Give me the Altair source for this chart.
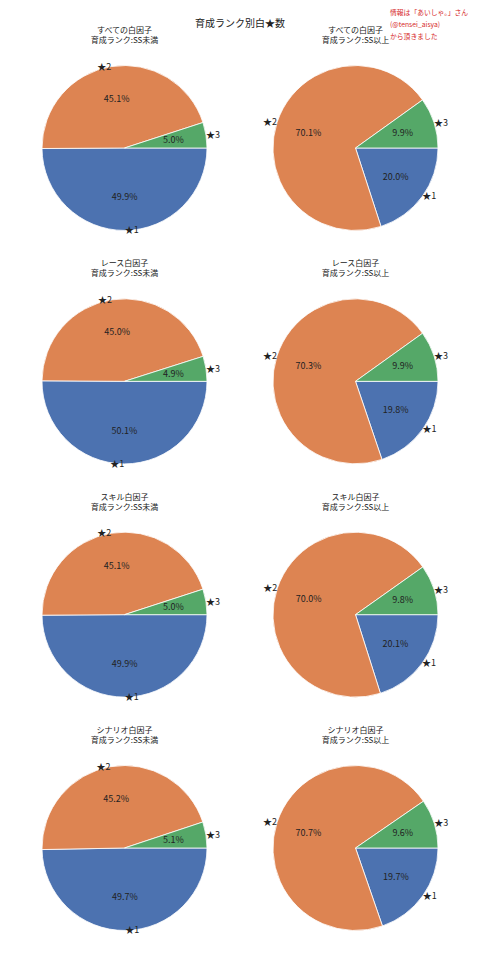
import math
import altair as alt
import pandas as pd

groups = ["すべての白因子", "レース白因子", "スキル白因子", "シナリオ白因子"]
ranks = ["育成ランク:SS未満", "育成ランク:SS以上"]
stars = ["★1", "★2", "★3"]
colors = ["#4C72B0", "#DD8452", "#55A868"]

# percentages per panel, order ★1, ★2, ★3
all_below = [49.9, 45.1, 5.0]
all_above = [20.0, 70.1, 9.9]
race_below = [50.1, 45.0, 4.9]
race_above = [19.8, 70.3, 9.9]
skill_below = [49.9, 45.1, 5.0]
skill_above = [20.1, 70.0, 9.8]
scen_below = [49.7, 45.2, 5.1]
scen_above = [19.7, 70.7, 9.6]

main_title = "育成ランク別白★数"
credit = ["情報は「あいしゃ。」さん", "(@tensei_aisya)", "から頂きました"]

panels = [
    [all_below, all_above],
    [race_below, race_above],
    [skill_below, skill_above],
    [scen_below, scen_above],
]

rows = []
titles = []
for r, (g, pair) in enumerate(zip(groups, panels)):
    for c, vals in enumerate(pair):
        titles.append({"row": r, "col": c, "title": g + "\n" + ranks[c]})
        for k, (s, v) in enumerate(zip(stars, vals)):
            rows.append({"panel": r * 2 + c, "row": r, "col": c, "star": s, "k": k, "pct": v})
df = pd.DataFrame(rows)
tdf = pd.DataFrame(titles)

F = "Noto Sans CJK JP"
R = 82.5
xs = alt.Scale(domain=[0, 1], range=[116.5, 347.5])
ys = alt.Scale(domain=[0, 3], range=[132, 832])
ts = alt.Scale(domain=[0, 1], range=[math.pi / 2, math.pi / 2 + 2 * math.pi])
cs = alt.Scale(domain=stars, range=colors)

X = alt.X("col:Q", scale=xs, axis=None)
Y = alt.Y("row:Q", scale=ys, axis=None)

base = (
    alt.Chart(df)
    .transform_joinaggregate(total="sum(pct)", groupby=["panel"])
    .transform_window(cum="sum(pct)", groupby=["panel"], sort=[alt.SortField("k")], frame=[None, 0])
    .transform_calculate(start="(datum.cum - datum.pct) / datum.total")
    .transform_calculate(end="datum.cum / datum.total")
    .transform_calculate(mid="(datum.cum - datum.pct / 2) / datum.total")
    .transform_calculate(right="cos(2 * PI * datum.mid) > 0")
    .transform_calculate(pctlabel="format(datum.pct, '.1f') + '%'")
)

arcs = base.mark_arc(radius=R, stroke="white", strokeWidth=0.8).encode(
    x=X, y=Y,
    theta=alt.Theta("start:Q", scale=ts, stack=None),
    theta2=alt.Theta2("end:Q"),
    color=alt.Color("star:N", scale=cs, legend=None),
)

pct_text = base.mark_text(radius=R * 0.6, fontSize=9, font=F, color="#222222").encode(
    x=X, y=Y,
    theta=alt.Theta("mid:Q", scale=ts, stack=None),
    text="pctlabel:N",
)

lab_right = base.transform_filter("datum.right").mark_text(
    radius=R, align="left", baseline="middle", fontSize=9, font=F, color="#222222"
).encode(x=X, y=Y, theta=alt.Theta("mid:Q", scale=ts, stack=None), text="star:N")

lab_left = base.transform_filter("!datum.right").mark_text(
    radius=R, align="right", baseline="middle", fontSize=9, font=F, color="#222222"
).encode(x=X, y=Y, theta=alt.Theta("mid:Q", scale=ts, stack=None), text="star:N")

panel_titles = alt.Chart(tdf).mark_text(
    fontSize=8, font=F, lineBreak="\n", lineHeight=10, baseline="middle", dy=-117, color="#222222"
).encode(x=X, y=Y, text="title:N")

top_title = alt.Chart(pd.DataFrame({"t": [main_title]})).mark_text(
    fontSize=10, font=F, baseline="middle", color="#222222"
).encode(x=alt.value(232), y=alt.value(8), text="t:N")

credit_text = alt.Chart(pd.DataFrame({"t": ["\n".join(credit)]})).mark_text(
    fontSize=6.8, font=F, align="left", baseline="middle", lineBreak="\n", lineHeight=12, color="#d62728"
).encode(x=alt.value(382), y=alt.value(-3), text="t:N")

chart = (
    alt.layer(arcs, pct_text, lab_right, lab_left, panel_titles, top_title, credit_text)
    .properties(width=464, height=936, padding={"left": 0, "top": 8, "right": 0, "bottom": 0}, autosize="none")
    .configure_view(stroke=None)
)

chart.save("out.html", embed_options={"renderer": "svg", "actions": False})
